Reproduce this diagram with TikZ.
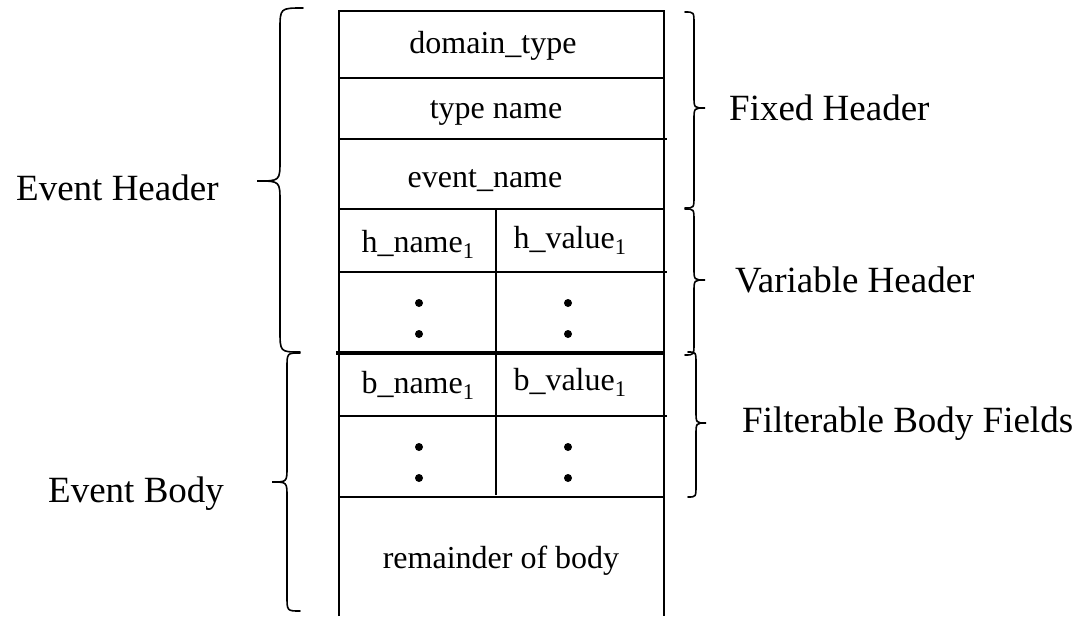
\documentclass[tikz,border=0pt]{standalone}
\usepackage{fontspec}
\setmainfont{Liberation Serif}
\begin{document}
\begin{tikzpicture}[x=1pt,y=-1pt,
  rule/.style={line width=1.6pt},
  thickrule/.style={line width=4pt},
  bracepath/.style={line width=1.6pt,line cap=round},
  cell/.style={anchor=base,inner sep=0pt,font=\fontsize{32}{38}\selectfont},
  lbl/.style={anchor=base west,inner sep=0pt,font=\fontsize{37}{44}\selectfont},
  dotmark/.style={circle,fill=black,inner sep=0pt,minimum size=8pt}]
\useasboundingbox (0,0) rectangle (1084,616);
% box outline
\draw[rule] (339,616) -- (339,11) -- (664,11) -- (664,616);
\draw[rule] (339,78) -- (664,78);
\draw[rule] (339,139) -- (667,139);
\draw[rule] (339,209) -- (664,209);
\draw[rule] (339,272) -- (667,272);
\draw[thickrule] (336,353) -- (664,353);
\draw[rule] (339,416) -- (667,416);
\draw[rule] (339,497) -- (664,497);
\draw[rule] (496,209) -- (496,353);
\draw[rule] (496,353) -- (496,495);
% cell texts
\node[cell] (dt) at (493,53) {domain\_type};
\node[cell] (tn) at (496,118) {type name};
\node[cell] (en) at (485,187) {event\_name};
\node[cell] (hn) at (418,252) {h\_name\textsubscript{1}};
\node[cell] (hv) at (570,248) {h\_value\textsubscript{1}};
\node[cell] (bn) at (418,393) {b\_name\textsubscript{1}};
\node[cell] (bv) at (570,390) {b\_value\textsubscript{1}};
\node[cell] (rb) at (501,568) {remainder of body};
% dots
\node[dotmark] (d1) at (419,303) {};
\node[dotmark] (d2) at (419,334) {};
\node[dotmark] (d3) at (568,303) {};
\node[dotmark] (d4) at (568,334) {};
\node[dotmark] (d5) at (419,447) {};
\node[dotmark] (d6) at (419,478) {};
\node[dotmark] (d7) at (568,447) {};
\node[dotmark] (d8) at (568,478) {};
% left braces
\draw[bracepath] (303,8) .. controls (280,8) .. (280,30) -- (280,160)
  .. controls (280,181) .. (257,181) .. controls (280,181) .. (280,202)
  -- (280,330) .. controls (280,352) .. (300,352);
\draw[bracepath] (300,353) .. controls (287,353) .. (287,368) -- (287,467)
  .. controls (287,482) .. (272,482) .. controls (287,482) .. (287,497)
  -- (287,596) .. controls (287,611) .. (300,611);
% right braces
\draw[bracepath] (685,12) .. controls (694,12) .. (694,24) -- (694,96)
  .. controls (694,108) .. (705,108) .. controls (694,108) .. (694,120)
  -- (694,196) .. controls (694,208) .. (685,208);
\draw[bracepath] (685,209) .. controls (694,209) .. (694,221) -- (694,268)
  .. controls (694,280) .. (705,280) .. controls (694,280) .. (694,292)
  -- (694,343) .. controls (694,355) .. (685,355);
\draw[bracepath] (688,352) .. controls (696,352) .. (696,364) -- (696,411)
  .. controls (696,423) .. (706,423) .. controls (696,423) .. (696,435)
  -- (696,485) .. controls (696,497) .. (688,497);
% labels
\node[lbl] (fh) at (729,120) {Fixed Header};
\node[lbl] (vh) at (735,292) {Variable Header};
\node[lbl] (fb) at (742,432) {Filterable Body Fields};
\node[lbl] (eh) at (16,200) {Event Header};
\node[lbl] (eb) at (48,502) {Event Body};
\end{tikzpicture}
\end{document}
